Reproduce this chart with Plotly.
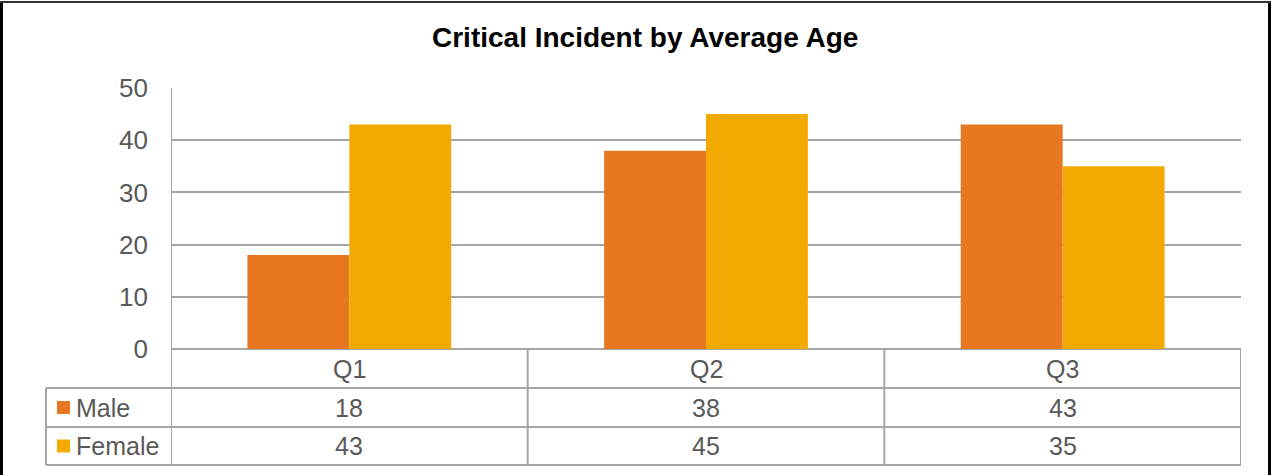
import plotly.graph_objects as go

# Chart data
quarters = ["Q1", "Q2", "Q3"]
male_age = [18, 38, 43]
female_age = [43, 45, 35]
series_names = ["Male", "Female"]
y_ticks = [0, 10, 20, 30, 40, 50]

W, H = 1273, 475
MALE_COLOR = "#E87722"
FEMALE_COLOR = "#F2A900"
GRID = "#A5A5A5"
TEXT = "#595959"
FONT = "Liberation Sans, Arial, sans-serif"


def px(x):
    return x / W


def py(y):
    return 1 - y / H


# Pixel layout of the plot area and the data table
PLOT_L, PLOT_R, PLOT_T, PLOT_B = 171, 1241, 88, 349
ROW_LINES = [388, 427, 465]
TABLE_L = 46

fig = go.Figure()
fig.add_trace(go.Bar(x=quarters, y=male_age, name=series_names[0],
                     marker=dict(color=MALE_COLOR, line=dict(width=0))))
fig.add_trace(go.Bar(x=quarters, y=female_age, name=series_names[1],
                     marker=dict(color=FEMALE_COLOR, line=dict(width=0))))

shapes = []
line = dict(color=GRID, width=2)

# Value-axis line, continuing down through the data table
shapes.append(dict(type="line", xref="x", yref="paper", x0=-0.5, x1=-0.5,
                   y0=py(PLOT_T), y1=py(ROW_LINES[-1]), line=line, layer="above"))
# Category separators and right edge of the table
for b in [0.5, 1.5, 2.5]:
    shapes.append(dict(type="line", xref="x", yref="paper", x0=b, x1=b,
                       y0=py(PLOT_B), y1=py(ROW_LINES[-1]), line=line))
# Left edge of the series-name column
shapes.append(dict(type="line", xref="paper", yref="paper", x0=px(TABLE_L), x1=px(TABLE_L),
                   y0=py(ROW_LINES[0]), y1=py(ROW_LINES[-1]), line=line))
# Horizontal row lines
for r in ROW_LINES:
    shapes.append(dict(type="line", xref="paper", yref="paper", x0=px(TABLE_L), x1=px(PLOT_R),
                       y0=py(r), y1=py(r), line=line))

# Legend keys inside the table
row_centers = [(ROW_LINES[0] + ROW_LINES[1]) / 2, (ROW_LINES[1] + ROW_LINES[2]) / 2]
for color, yc in zip([MALE_COLOR, FEMALE_COLOR], row_centers):
    shapes.append(dict(type="rect", xref="paper", yref="paper",
                       x0=px(57), x1=px(70), y0=py(yc - 6.5), y1=py(yc + 6.5),
                       fillcolor=color, line=dict(width=0)))

# Outer frame
frame = dict(color="black", width=3)
shapes.append(dict(type="line", xref="paper", yref="paper", x0=px(1.5), x1=px(1.5),
                   y0=0, y1=py(1.5), line=frame))
shapes.append(dict(type="line", xref="paper", yref="paper", x0=px(1269.5), x1=px(1269.5),
                   y0=0, y1=py(1.5), line=frame))
shapes.append(dict(type="line", xref="paper", yref="paper", x0=0, x1=px(1271),
                   y0=py(2), y1=py(2), line=dict(color="#333333", width=2)))

annotations = []
cell_font = dict(family=FONT, size=25, color=TEXT)
header_center = (PLOT_B + ROW_LINES[0]) / 2
for i, q in enumerate(quarters):
    annotations.append(dict(x=q, y=py(header_center), xref="x", yref="paper", text=q,
                            showarrow=False, font=cell_font, xanchor="center", yanchor="middle"))
    for vals, yc in zip([male_age, female_age], row_centers):
        annotations.append(dict(x=q, y=py(yc), xref="x", yref="paper", text=str(vals[i]),
                                showarrow=False, font=cell_font, xanchor="center", yanchor="middle"))
for name, yc in zip(series_names, row_centers):
    annotations.append(dict(x=px(74), y=py(yc), xref="paper", yref="paper", text=name,
                            showarrow=False, font=cell_font, xanchor="left", yanchor="middle"))

# Chart title
annotations.append(dict(x=px(645), y=py(38), xref="paper", yref="paper",
                        text="<b>Critical Incident by Average Age</b>", showarrow=False,
                        font=dict(family=FONT, size=28, color="black"),
                        xanchor="center", yanchor="middle"))

fig.update_layout(
    width=W, height=H,
    margin=dict(l=0, r=0, t=0, b=0, autoexpand=False),
    paper_bgcolor="white", plot_bgcolor="white",
    barmode="group", bargap=0.4286, bargroupgap=0,
    showlegend=False,
    shapes=shapes, annotations=annotations,
    xaxis=dict(domain=[px(PLOT_L), px(PLOT_R)], range=[-0.5, 2.5],
               showticklabels=False, showgrid=False, zeroline=False, showline=False,
               fixedrange=True, automargin=False),
    yaxis=dict(domain=[py(PLOT_B), py(PLOT_T)], range=[0, 50], tickvals=y_ticks,
               showgrid=True, gridcolor=GRID, gridwidth=2,
               zeroline=True, zerolinecolor=GRID, zerolinewidth=2,
               showline=False, ticks="", ticklabelstandoff=22, automargin=False,
               tickfont=dict(family=FONT, size=26, color=TEXT), fixedrange=True),
)

fig.write_html("out.html")
